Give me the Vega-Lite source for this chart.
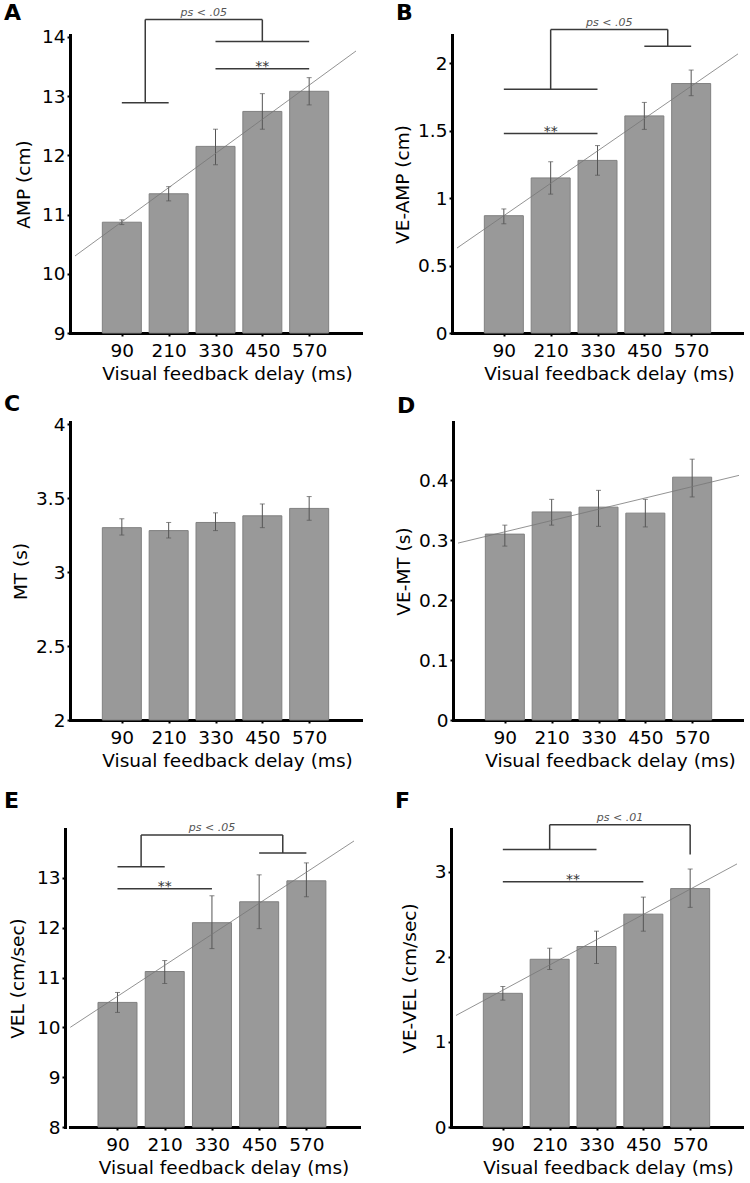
{
  "$schema": "https://vega.github.io/schema/vega-lite/v6.json",
  "padding": {"left": 4, "top": 1, "right": 0, "bottom": 0},
  "config": {
    "font": "DejaVu Sans",
    "view": {"stroke": null},
    "axis": {"grid": false, "domainColor": "#000", "domainWidth": 3, "domainCap": "square", "tickColor": "#000", "tickWidth": 2, "tickSize": 3,
      "labelFont": "DejaVu Sans", "labelFontSize": 18.5, "labelColor": "#000",
      "titleFont": "DejaVu Sans", "titleFontSize": 18.5, "titleFontWeight": "normal", "titleColor": "#000"},
    "axisX": {"labelPadding": 5, "titlePadding": 5, "titleX": 157, "format": "d", "labelOverlap": false},
    "axisY": {"labelPadding": 2, "titlePadding": 5, "format": "~g"},
    "title": {"anchor": "start", "frame": "group", "fontSize": 22, "fontWeight": "bold", "color": "#000"}
  },
  "datasets": {
    "bars": [
      {"p": "A", "x": 90, "y": 10.87}, {"p": "A", "x": 210, "y": 11.35}, {"p": "A", "x": 330, "y": 12.15}, {"p": "A", "x": 450, "y": 12.74}, {"p": "A", "x": 570, "y": 13.08},
      {"p": "B", "x": 90, "y": 0.87}, {"p": "B", "x": 210, "y": 1.15}, {"p": "B", "x": 330, "y": 1.28}, {"p": "B", "x": 450, "y": 1.61}, {"p": "B", "x": 570, "y": 1.85},
      {"p": "C", "x": 90, "y": 3.30}, {"p": "C", "x": 210, "y": 3.28}, {"p": "C", "x": 330, "y": 3.335}, {"p": "C", "x": 450, "y": 3.38}, {"p": "C", "x": 570, "y": 3.43},
      {"p": "D", "x": 90, "y": 0.31}, {"p": "D", "x": 210, "y": 0.347}, {"p": "D", "x": 330, "y": 0.355}, {"p": "D", "x": 450, "y": 0.345}, {"p": "D", "x": 570, "y": 0.405},
      {"p": "E", "x": 90, "y": 10.5}, {"p": "E", "x": 210, "y": 11.12}, {"p": "E", "x": 330, "y": 12.1}, {"p": "E", "x": 450, "y": 12.52}, {"p": "E", "x": 570, "y": 12.94},
      {"p": "F", "x": 90, "y": 1.57}, {"p": "F", "x": 210, "y": 1.97}, {"p": "F", "x": 330, "y": 2.12}, {"p": "F", "x": 450, "y": 2.5}, {"p": "F", "x": 570, "y": 2.8}
    ],
    "errs": [
      {"p": "A", "x": 90, "y": 10.83, "y2": 10.91}, {"p": "A", "x": 210, "y": 11.23, "y2": 11.47}, {"p": "A", "x": 330, "y": 11.84, "y2": 12.44}, {"p": "A", "x": 450, "y": 12.44, "y2": 13.04}, {"p": "A", "x": 570, "y": 12.85, "y2": 13.31},
      {"p": "B", "x": 90, "y": 0.81, "y2": 0.92}, {"p": "B", "x": 210, "y": 1.03, "y2": 1.27}, {"p": "B", "x": 330, "y": 1.17, "y2": 1.39}, {"p": "B", "x": 450, "y": 1.51, "y2": 1.71}, {"p": "B", "x": 570, "y": 1.76, "y2": 1.95},
      {"p": "C", "x": 90, "y": 3.25, "y2": 3.36}, {"p": "C", "x": 210, "y": 3.23, "y2": 3.335}, {"p": "C", "x": 330, "y": 3.28, "y2": 3.40}, {"p": "C", "x": 450, "y": 3.30, "y2": 3.46}, {"p": "C", "x": 570, "y": 3.35, "y2": 3.51},
      {"p": "D", "x": 90, "y": 0.29, "y2": 0.325}, {"p": "D", "x": 210, "y": 0.325, "y2": 0.368}, {"p": "D", "x": 330, "y": 0.323, "y2": 0.383}, {"p": "D", "x": 450, "y": 0.322, "y2": 0.368}, {"p": "D", "x": 570, "y": 0.372, "y2": 0.435},
      {"p": "E", "x": 90, "y": 10.3, "y2": 10.7}, {"p": "E", "x": 210, "y": 10.88, "y2": 11.34}, {"p": "E", "x": 330, "y": 11.58, "y2": 12.64}, {"p": "E", "x": 450, "y": 11.98, "y2": 13.06}, {"p": "E", "x": 570, "y": 12.62, "y2": 13.3},
      {"p": "F", "x": 90, "y": 1.49, "y2": 1.65}, {"p": "F", "x": 210, "y": 1.85, "y2": 2.10}, {"p": "F", "x": 330, "y": 1.92, "y2": 2.30}, {"p": "F", "x": 450, "y": 2.30, "y2": 2.70}, {"p": "F", "x": 570, "y": 2.58, "y2": 3.03}
    ],
    "trend": [
      {"p": "A", "x": -30, "y": 10.30, "x2": 690, "y2": 13.76},
      {"p": "B", "x": -30, "y": 0.63, "x2": 690, "y2": 2.07},
      {"p": "D", "x": -30, "y": 0.295, "x2": 690, "y2": 0.408},
      {"p": "E", "x": -30, "y": 10.0, "x2": 691, "y2": 13.74},
      {"p": "F", "x": -30, "y": 1.31, "x2": 690, "y2": 3.09}
    ],
    "segs": [
      {"p": "A", "x": 150, "y": 14.29, "x2": 450, "y2": 14.29},
      {"p": "A", "x": 150, "y": 14.29, "x2": 150, "y2": 12.885},
      {"p": "A", "x": 90, "y": 12.885, "x2": 210, "y2": 12.885},
      {"p": "A", "x": 450, "y": 14.29, "x2": 450, "y2": 13.92},
      {"p": "A", "x": 330, "y": 13.92, "x2": 570, "y2": 13.92},
      {"p": "A", "x": 330, "y": 13.46, "x2": 570, "y2": 13.46},
      {"p": "B", "x": 210, "y": 2.25, "x2": 510, "y2": 2.25},
      {"p": "B", "x": 210, "y": 2.25, "x2": 210, "y2": 1.807},
      {"p": "B", "x": 90, "y": 1.807, "x2": 330, "y2": 1.807},
      {"p": "B", "x": 510, "y": 2.25, "x2": 510, "y2": 2.126},
      {"p": "B", "x": 450, "y": 2.126, "x2": 570, "y2": 2.126},
      {"p": "B", "x": 90, "y": 1.48, "x2": 330, "y2": 1.48},
      {"p": "E", "x": 150, "y": 13.86, "x2": 510, "y2": 13.86},
      {"p": "E", "x": 150, "y": 13.86, "x2": 150, "y2": 13.22},
      {"p": "E", "x": 90, "y": 13.22, "x2": 210, "y2": 13.22},
      {"p": "E", "x": 510, "y": 13.86, "x2": 510, "y2": 13.5},
      {"p": "E", "x": 450, "y": 13.5, "x2": 570, "y2": 13.5},
      {"p": "E", "x": 90, "y": 12.78, "x2": 330, "y2": 12.78},
      {"p": "F", "x": 210, "y": 3.55, "x2": 570, "y2": 3.55},
      {"p": "F", "x": 210, "y": 3.55, "x2": 210, "y2": 3.26},
      {"p": "F", "x": 90, "y": 3.26, "x2": 330, "y2": 3.26},
      {"p": "F", "x": 570, "y": 3.55, "x2": 570, "y2": 3.2},
      {"p": "F", "x": 90, "y": 2.88, "x2": 450, "y2": 2.88}
    ],
    "notes": [
      {"p": "A", "k": "ps", "x": 300, "y": 14.29, "t": "ps < .05"},
      {"p": "A", "k": "star", "x": 450, "y": 13.46, "t": "**"},
      {"p": "B", "k": "ps", "x": 360, "y": 2.25, "t": "ps < .05"},
      {"p": "B", "k": "star", "x": 210, "y": 1.48, "t": "**"},
      {"p": "E", "k": "ps", "x": 330, "y": 13.86, "t": "ps < .05"},
      {"p": "E", "k": "star", "x": 210, "y": 12.78, "t": "**"},
      {"p": "F", "k": "ps", "x": 390, "y": 3.55, "t": "ps < .01"},
      {"p": "F", "k": "star", "x": 270, "y": 2.88, "t": "**"}
    ]
  },
  "vconcat": [
    {"vconcat": [
      {"hconcat": [
        {"width": 291, "height": 298, "title": {"text": "A", "dx": -66, "offset": -18},
          "encoding": {
            "x": {"field": "x", "type": "quantitative", "title": "Visual feedback delay (ms)", "scale": {"domain": [-30, 690], "nice": false, "zero": false}, "axis": {"values": [90, 210, 330, 450, 570]}},
            "y": {"field": "y", "type": "quantitative", "title": "AMP (cm)", "scale": {"domain": [9, 14.03], "nice": false, "zero": false}, "axis": {"values": [9, 10, 11, 12, 13, 14], "titlePadding": 7.5}}},
          "layer": [
            {"data": {"name": "bars"}, "transform": [{"filter": "datum.p == 'A'"}], "mark": {"type": "bar", "size": 39, "fill": "#999999", "stroke": "#808080", "strokeWidth": 1}, "encoding": {"y2": {"datum": 9}}},
            {"data": {"name": "errs"}, "transform": [{"filter": "datum.p == 'A'"}], "mark": {"type": "rule", "color": "#555", "strokeWidth": 1}, "encoding": {"y2": {"field": "y2"}}},
            {"data": {"name": "errs"}, "transform": [{"filter": "datum.p == 'A'"}], "mark": {"type": "tick", "orient": "horizontal", "size": 5, "thickness": 1, "color": "#555"}},
            {"data": {"name": "errs"}, "transform": [{"filter": "datum.p == 'A'"}], "mark": {"type": "tick", "orient": "horizontal", "size": 5, "thickness": 1, "color": "#555"}, "encoding": {"y": {"field": "y2", "type": "quantitative", "title": "AMP (cm)"}}},
            {"data": {"name": "trend"}, "transform": [{"filter": "datum.p == 'A'"}], "mark": {"type": "rule", "color": "#777", "strokeWidth": 0.8}, "encoding": {"x2": {"field": "x2"}, "y2": {"field": "y2"}}},
            {"data": {"name": "segs"}, "transform": [{"filter": "datum.p == 'A'"}], "mark": {"type": "rule", "color": "#3a3a3a", "strokeWidth": 1.5}, "encoding": {"x2": {"field": "x2"}, "y2": {"field": "y2"}}},
            {"data": {"name": "notes"}, "transform": [{"filter": "datum.p == 'A' && datum.k == 'ps'"}], "mark": {"type": "text", "fontSize": 11, "fontStyle": "italic", "color": "#555", "baseline": "alphabetic", "dy": -4}, "encoding": {"text": {"field": "t"}}},
            {"data": {"name": "notes"}, "transform": [{"filter": "datum.p == 'A' && datum.k == 'star'"}], "mark": {"type": "text", "fontSize": 14, "color": "#333", "baseline": "alphabetic", "dy": 2.5}, "encoding": {"text": {"field": "t"}}}
          ]},
        {"width": 291, "height": 298, "title": {"text": "B", "dx": -56, "offset": -8},
          "encoding": {
            "x": {"field": "x", "type": "quantitative", "title": "Visual feedback delay (ms)", "scale": {"domain": [-30, 690], "nice": false, "zero": false}, "axis": {"values": [90, 210, 330, 450, 570]}},
            "y": {"field": "y", "type": "quantitative", "title": "VE-AMP (cm)", "scale": {"domain": [0, 2.21], "nice": false, "zero": false}, "axis": {"values": [0, 0.5, 1, 1.5, 2], "titlePadding": 5}}},
          "layer": [
            {"data": {"name": "bars"}, "transform": [{"filter": "datum.p == 'B'"}], "mark": {"type": "bar", "size": 39, "fill": "#999999", "stroke": "#808080", "strokeWidth": 1}, "encoding": {"y2": {"datum": 0}}},
            {"data": {"name": "errs"}, "transform": [{"filter": "datum.p == 'B'"}], "mark": {"type": "rule", "color": "#555", "strokeWidth": 1}, "encoding": {"y2": {"field": "y2"}}},
            {"data": {"name": "errs"}, "transform": [{"filter": "datum.p == 'B'"}], "mark": {"type": "tick", "orient": "horizontal", "size": 5, "thickness": 1, "color": "#555"}},
            {"data": {"name": "errs"}, "transform": [{"filter": "datum.p == 'B'"}], "mark": {"type": "tick", "orient": "horizontal", "size": 5, "thickness": 1, "color": "#555"}, "encoding": {"y": {"field": "y2", "type": "quantitative", "title": "VE-AMP (cm)"}}},
            {"data": {"name": "trend"}, "transform": [{"filter": "datum.p == 'B'"}], "mark": {"type": "rule", "color": "#777", "strokeWidth": 0.8}, "encoding": {"x2": {"field": "x2"}, "y2": {"field": "y2"}}},
            {"data": {"name": "segs"}, "transform": [{"filter": "datum.p == 'B'"}], "mark": {"type": "rule", "color": "#3a3a3a", "strokeWidth": 1.5}, "encoding": {"x2": {"field": "x2"}, "y2": {"field": "y2"}}},
            {"data": {"name": "notes"}, "transform": [{"filter": "datum.p == 'B' && datum.k == 'ps'"}], "mark": {"type": "text", "fontSize": 11, "fontStyle": "italic", "color": "#555", "baseline": "alphabetic", "dy": -4}, "encoding": {"text": {"field": "t"}}},
            {"data": {"name": "notes"}, "transform": [{"filter": "datum.p == 'B' && datum.k == 'star'"}], "mark": {"type": "text", "fontSize": 14, "color": "#333", "baseline": "alphabetic", "dy": 2.5}, "encoding": {"text": {"field": "t"}}}
          ]}
      ], "spacing": 32},
      {"hconcat": [
        {"width": 291, "height": 298, "title": {"text": "C", "dx": -66, "offset": -1},
          "encoding": {
            "x": {"field": "x", "type": "quantitative", "title": "Visual feedback delay (ms)", "scale": {"domain": [-30, 690], "nice": false, "zero": false}, "axis": {"values": [90, 210, 330, 450, 570]}},
            "y": {"field": "y", "type": "quantitative", "title": "MT (s)", "scale": {"domain": [2, 4.014], "nice": false, "zero": false}, "axis": {"values": [2, 2.5, 3, 3.5, 4], "titlePadding": 5}}},
          "layer": [
            {"data": {"name": "bars"}, "transform": [{"filter": "datum.p == 'C'"}], "mark": {"type": "bar", "size": 39, "fill": "#999999", "stroke": "#808080", "strokeWidth": 1}, "encoding": {"y2": {"datum": 2}}},
            {"data": {"name": "errs"}, "transform": [{"filter": "datum.p == 'C'"}], "mark": {"type": "rule", "color": "#555", "strokeWidth": 1}, "encoding": {"y2": {"field": "y2"}}},
            {"data": {"name": "errs"}, "transform": [{"filter": "datum.p == 'C'"}], "mark": {"type": "tick", "orient": "horizontal", "size": 5, "thickness": 1, "color": "#555"}},
            {"data": {"name": "errs"}, "transform": [{"filter": "datum.p == 'C'"}], "mark": {"type": "tick", "orient": "horizontal", "size": 5, "thickness": 1, "color": "#555"}, "encoding": {"y": {"field": "y2", "type": "quantitative", "title": "MT (s)"}}}
          ]},
        {"width": 291, "height": 298, "title": {"text": "D", "dx": -56, "offset": 4},
          "encoding": {
            "x": {"field": "x", "type": "quantitative", "title": "Visual feedback delay (ms)", "scale": {"domain": [-30, 690], "nice": false, "zero": false}, "axis": {"values": [90, 210, 330, 450, 570]}},
            "y": {"field": "y", "type": "quantitative", "title": "VE-MT (s)", "scale": {"domain": [0, 0.497], "nice": false, "zero": false}, "axis": {"values": [0, 0.1, 0.2, 0.3, 0.4], "titlePadding": 5}}},
          "layer": [
            {"data": {"name": "bars"}, "transform": [{"filter": "datum.p == 'D'"}], "mark": {"type": "bar", "size": 39, "fill": "#999999", "stroke": "#808080", "strokeWidth": 1}, "encoding": {"y2": {"datum": 0}}},
            {"data": {"name": "errs"}, "transform": [{"filter": "datum.p == 'D'"}], "mark": {"type": "rule", "color": "#555", "strokeWidth": 1}, "encoding": {"y2": {"field": "y2"}}},
            {"data": {"name": "errs"}, "transform": [{"filter": "datum.p == 'D'"}], "mark": {"type": "tick", "orient": "horizontal", "size": 5, "thickness": 1, "color": "#555"}},
            {"data": {"name": "errs"}, "transform": [{"filter": "datum.p == 'D'"}], "mark": {"type": "tick", "orient": "horizontal", "size": 5, "thickness": 1, "color": "#555"}, "encoding": {"y": {"field": "y2", "type": "quantitative", "title": "VE-MT (s)"}}},
            {"data": {"name": "trend"}, "transform": [{"filter": "datum.p == 'D'"}], "mark": {"type": "rule", "color": "#777", "strokeWidth": 0.8}, "encoding": {"x2": {"field": "x2"}, "y2": {"field": "y2"}}}
          ]}
      ], "spacing": 33}
    ], "spacing": 10},
    {"hconcat": [
      {"width": 289, "height": 298, "title": {"text": "E", "dx": -66, "offset": 9},
        "encoding": {
          "x": {"field": "x", "type": "quantitative", "title": "Visual feedback delay (ms)", "scale": {"domain": [-18, 691], "nice": false, "zero": false}, "axis": {"values": [90, 210, 330, 450, 570], "titleX": 153.5}},
          "y": {"field": "y", "type": "quantitative", "title": "VEL (cm/sec)", "scale": {"domain": [8, 13.98], "nice": false, "zero": false}, "axis": {"values": [8, 9, 10, 11, 12, 13], "titlePadding": 8.5, "offset": 5}}},
        "layer": [
          {"data": {"name": "bars"}, "transform": [{"filter": "datum.p == 'E'"}], "mark": {"type": "bar", "size": 39, "fill": "#999999", "stroke": "#808080", "strokeWidth": 1}, "encoding": {"y2": {"datum": 8}}},
          {"data": {"name": "errs"}, "transform": [{"filter": "datum.p == 'E'"}], "mark": {"type": "rule", "color": "#555", "strokeWidth": 1}, "encoding": {"y2": {"field": "y2"}}},
          {"data": {"name": "errs"}, "transform": [{"filter": "datum.p == 'E'"}], "mark": {"type": "tick", "orient": "horizontal", "size": 5, "thickness": 1, "color": "#555"}},
          {"data": {"name": "errs"}, "transform": [{"filter": "datum.p == 'E'"}], "mark": {"type": "tick", "orient": "horizontal", "size": 5, "thickness": 1, "color": "#555"}, "encoding": {"y": {"field": "y2", "type": "quantitative", "title": "VEL (cm/sec)"}}},
          {"data": {"name": "trend"}, "transform": [{"filter": "datum.p == 'E'"}], "mark": {"type": "rule", "color": "#777", "strokeWidth": 0.8}, "encoding": {"x2": {"field": "x2"}, "y2": {"field": "y2"}}},
          {"data": {"name": "segs"}, "transform": [{"filter": "datum.p == 'E'"}], "mark": {"type": "rule", "color": "#3a3a3a", "strokeWidth": 1.5}, "encoding": {"x2": {"field": "x2"}, "y2": {"field": "y2"}}},
          {"data": {"name": "notes"}, "transform": [{"filter": "datum.p == 'E' && datum.k == 'ps'"}], "mark": {"type": "text", "fontSize": 11, "fontStyle": "italic", "color": "#555", "baseline": "alphabetic", "dy": -4}, "encoding": {"text": {"field": "t"}}},
          {"data": {"name": "notes"}, "transform": [{"filter": "datum.p == 'E' && datum.k == 'star'"}], "mark": {"type": "text", "fontSize": 14, "color": "#333", "baseline": "alphabetic", "dy": 2.5}, "encoding": {"text": {"field": "t"}}}
        ]},
      {"width": 291, "height": 298, "title": {"text": "F", "dx": -56, "offset": -1},
        "encoding": {
          "x": {"field": "x", "type": "quantitative", "title": "Visual feedback delay (ms)", "scale": {"domain": [-30, 690], "nice": false, "zero": false}, "axis": {"values": [90, 210, 330, 450, 570]}},
          "y": {"field": "y", "type": "quantitative", "title": "VE-VEL (cm/sec)", "scale": {"domain": [0, 3.5], "nice": false, "zero": false}, "axis": {"values": [0, 1, 2, 3], "titlePadding": 15}}},
        "layer": [
          {"data": {"name": "bars"}, "transform": [{"filter": "datum.p == 'F'"}], "mark": {"type": "bar", "size": 39, "fill": "#999999", "stroke": "#808080", "strokeWidth": 1}, "encoding": {"y2": {"datum": 0}}},
          {"data": {"name": "errs"}, "transform": [{"filter": "datum.p == 'F'"}], "mark": {"type": "rule", "color": "#555", "strokeWidth": 1}, "encoding": {"y2": {"field": "y2"}}},
          {"data": {"name": "errs"}, "transform": [{"filter": "datum.p == 'F'"}], "mark": {"type": "tick", "orient": "horizontal", "size": 5, "thickness": 1, "color": "#555"}},
          {"data": {"name": "errs"}, "transform": [{"filter": "datum.p == 'F'"}], "mark": {"type": "tick", "orient": "horizontal", "size": 5, "thickness": 1, "color": "#555"}, "encoding": {"y": {"field": "y2", "type": "quantitative", "title": "VE-VEL (cm/sec)"}}},
          {"data": {"name": "trend"}, "transform": [{"filter": "datum.p == 'F'"}], "mark": {"type": "rule", "color": "#777", "strokeWidth": 0.8}, "encoding": {"x2": {"field": "x2"}, "y2": {"field": "y2"}}},
          {"data": {"name": "segs"}, "transform": [{"filter": "datum.p == 'F'"}], "mark": {"type": "rule", "color": "#3a3a3a", "strokeWidth": 1.5}, "encoding": {"x2": {"field": "x2"}, "y2": {"field": "y2"}}},
          {"data": {"name": "notes"}, "transform": [{"filter": "datum.p == 'F' && datum.k == 'ps'"}], "mark": {"type": "text", "fontSize": 11, "fontStyle": "italic", "color": "#555", "baseline": "alphabetic", "dy": -4}, "encoding": {"text": {"field": "t"}}},
          {"data": {"name": "notes"}, "transform": [{"filter": "datum.p == 'F' && datum.k == 'star'"}], "mark": {"type": "text", "fontSize": 14, "color": "#333", "baseline": "alphabetic", "dy": 2.5}, "encoding": {"text": {"field": "t"}}}
        ]}
    ], "spacing": 36}
  ],
  "spacing": 19
}
